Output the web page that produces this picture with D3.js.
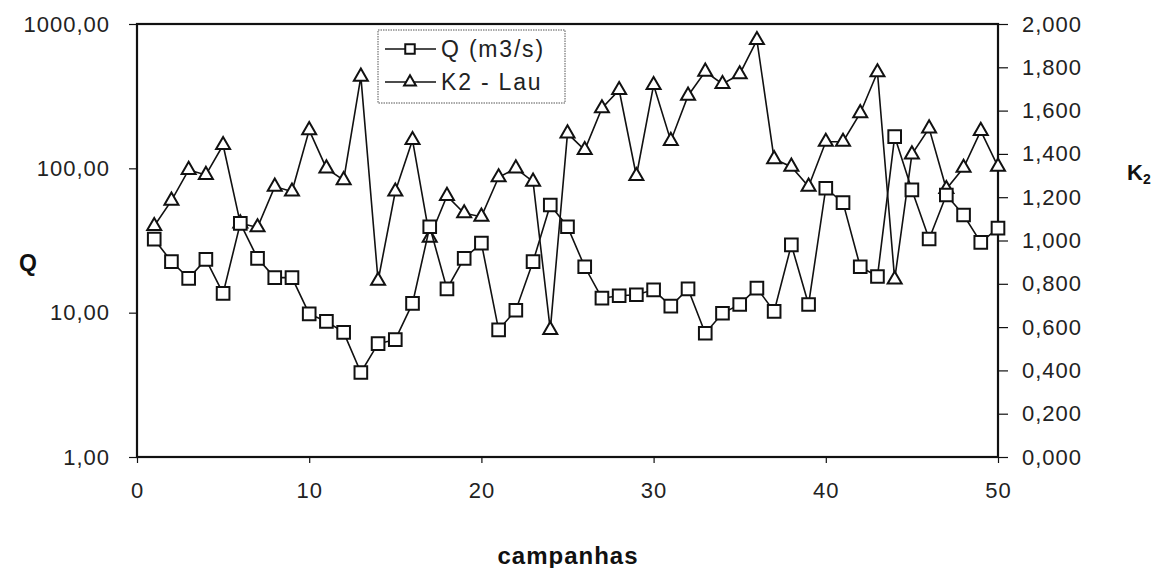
<!DOCTYPE html>
<html>
<head>
<meta charset="utf-8">
<script src="https://cdn.jsdelivr.net/npm/d3@7"></script>
<style>
  body { margin: 0; background: #fff; }
  svg { display: block; font-family: 'Liberation Sans', Arial, sans-serif; }
</style>
</head>
<body>
<svg id="chart" width="1174" height="568"></svg>
<script>
// campanhas 1..50
const campanhas = d3.range(1, 51);
// vazão Q (m3/s), log axis
const qValues = [32.3, 22.6, 17.3, 23.4, 13.6, 41.6, 23.8, 17.5, 17.5, 9.8,
  8.7, 7.3, 3.85, 6.1, 6.5, 11.6, 39.4, 14.6, 23.8, 30.3,
  7.6, 10.4, 22.6, 55.7, 39.4, 20.8, 12.6, 13.1, 13.3, 14.4,
  11.1, 14.6, 7.2, 9.9, 11.4, 14.8, 10.2, 29.5, 11.4, 72.8,
  57.9, 20.8, 17.8, 166, 70.9, 32.4, 65.4, 47.5, 30.7, 38.5];
// K2 - Lau, right axis
const k2Values = [1.067, 1.184, 1.326, 1.303, 1.441, 1.079, 1.061, 1.249, 1.226, 1.510,
  1.333, 1.279, 1.757, 0.814, 1.226, 1.464, 1.013, 1.206, 1.126, 1.110,
  1.292, 1.333, 1.272, 0.587, 1.495, 1.418, 1.611, 1.695, 1.298, 1.718,
  1.460, 1.669, 1.780, 1.723, 1.768, 1.926, 1.376, 1.341, 1.249, 1.456,
  1.456, 1.588, 1.777, 0.820, 1.398, 1.518, 1.238, 1.336, 1.506, 1.341];

const xTicks = [0, 10, 20, 30, 40, 50];
const qTicks = [1, 10, 100, 1000];
const kTicks = [0, 0.2, 0.4, 0.6, 0.8, 1.0, 1.2, 1.4, 1.6, 1.8, 2.0];
const legendLabels = ['Q (m3/s)', 'K2 - Lau'];

const plotL = 137, plotR = 998, plotT = 24, plotB = 457;
const ink = '#111';

const svg = d3.select('#chart');

const x = d3.scaleLinear().domain([0, 50]).range([plotL, plotR]);
const yQ = d3.scaleLog().domain([1, 1000]).range([plotB, plotT]);
const yK = d3.scaleLinear().domain([0, 2]).range([plotB, plotT]);

const comma = (f) => v => d3.format(f)(v).replace('.', ',');

// left axis
svg.append('g')
  .attr('transform', `translate(${plotL},0)`)
  .call(d3.axisLeft(yQ).tickValues(qTicks).tickFormat(comma('.2f')).tickSize(8).tickPadding(19))
  .call(g => g.select('.domain').remove());

// right axis
svg.append('g')
  .attr('transform', `translate(${plotR},0)`)
  .call(d3.axisRight(yK).tickValues(kTicks).tickFormat(comma('.3f')).tickSize(10).tickPadding(14))
  .call(g => g.select('.domain').remove());

// bottom axis
svg.append('g')
  .attr('transform', `translate(0,${plotB})`)
  .call(d3.axisBottom(x).tickValues(xTicks).tickSize(6).tickPadding(19))
  .call(g => g.select('.domain').remove());

svg.selectAll('.tick text')
  .attr('font-size', 22)
  .attr('letter-spacing', 1)
  .attr('fill', '#222');
svg.selectAll('.tick line').attr('stroke', ink).attr('stroke-width', 1.2);

// frame
svg.append('rect')
  .attr('x', plotL).attr('y', plotT)
  .attr('width', plotR - plotL).attr('height', plotB - plotT)
  .attr('fill', 'none').attr('stroke', ink).attr('stroke-width', 2.2);

const square = d3.symbol().type(d3.symbolSquare).size(160);
const triangle = d3.symbol().type(d3.symbolTriangle).size(85);

function drawSeries(values, yScale, sym) {
  const pts = values.map((v, i) => [x(campanhas[i]), yScale(v)]);
  svg.append('path')
    .attr('d', d3.line()(pts))
    .attr('fill', 'none').attr('stroke', ink).attr('stroke-width', 1.6);
  svg.append('g').selectAll('path')
    .data(pts)
    .join('path')
    .attr('transform', d => `translate(${d[0]},${d[1]})`)
    .attr('d', sym)
    .attr('fill', '#fff').attr('stroke', ink).attr('stroke-width', 2);
}

drawSeries(k2Values, yK, triangle);
drawSeries(qValues, yQ, square);

// legend
const lg = svg.append('g');
lg.append('rect')
  .attr('x', 378).attr('y', 30).attr('width', 187).attr('height', 73)
  .attr('fill', '#fff').attr('stroke', '#555').attr('stroke-width', 1)
  .attr('stroke-dasharray', '1.5,1');
[square, triangle].forEach((sym, i) => {
  const cy = 49 + i * 33;
  lg.append('line').attr('x1', 385).attr('x2', 436).attr('y1', cy).attr('y2', cy)
    .attr('stroke', ink).attr('stroke-width', 1.6);
  lg.append('path').attr('transform', `translate(410,${cy})`)
    .attr('d', i === 0 ? d3.symbol().type(d3.symbolSquare).size(90)() : d3.symbol().type(d3.symbolTriangle).size(60)())
    .attr('fill', '#fff').attr('stroke', ink).attr('stroke-width', 2);
  lg.append('text').attr('x', 441).attr('y', cy).attr('dy', '0.35em')
    .attr('font-size', 23).attr('letter-spacing', 1.8).attr('fill', '#222')
    .text(legendLabels[i]);
});

// axis titles
svg.append('text').attr('x', 28).attr('y', 263).attr('dy', '0.35em')
  .attr('text-anchor', 'middle').attr('font-size', 23).attr('font-weight', 'bold')
  .attr('fill', ink).text('Q');

const k2 = svg.append('text').attr('x', 1127).attr('y', 172).attr('dy', '0.35em')
  .attr('font-size', 22).attr('font-weight', 'bold').attr('fill', ink);
k2.append('tspan').text('K');
k2.append('tspan').attr('font-size', 14).attr('dy', 4).text('2');

svg.append('text').attr('x', 568).attr('y', 556).attr('dy', '0.35em')
  .attr('text-anchor', 'middle').attr('font-size', 24).attr('font-weight', 'bold')
  .attr('letter-spacing', 1).attr('fill', ink).text('campanhas');
</script>
</body>
</html>
